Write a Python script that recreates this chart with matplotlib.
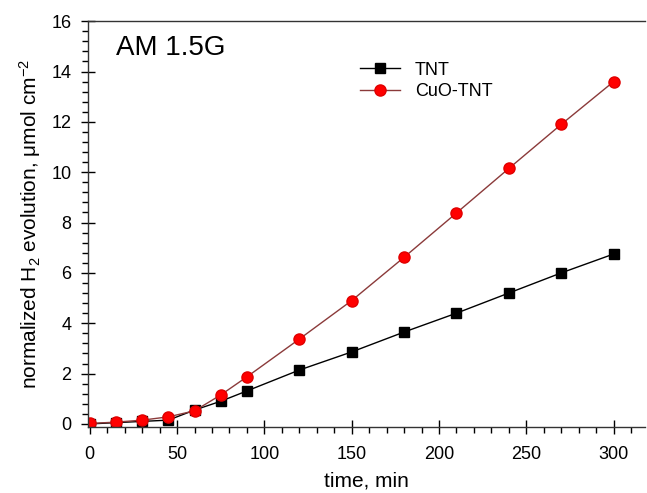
import numpy as np
import matplotlib
matplotlib.use('Agg')
import matplotlib.pyplot as plt
from matplotlib.ticker import MultipleLocator

plt.rcParams['font.family'] = ['Liberation Sans', 'DejaVu Sans']
plt.rcParams['mathtext.fontset'] = 'custom'
plt.rcParams['mathtext.rm'] = 'Liberation Sans'
plt.rcParams['mathtext.it'] = 'Liberation Sans'

time_min = [0, 15, 30, 45, 60, 75, 90, 120, 150, 180, 210, 240, 270, 300]
tnt = [0.0, 0.05, 0.1, 0.15, 0.55, 0.9, 1.31, 2.14, 2.86, 3.65, 4.4, 5.2, 6.0, 6.75]
cuo_tnt = [0.02, 0.07, 0.15, 0.28, 0.52, 1.15, 1.87, 3.37, 4.9, 6.62, 8.38, 10.15, 11.9, 13.6]

fig = plt.figure(figsize=(6.47, 4.93), dpi=100)
ax = fig.add_axes([0.136, 0.134, 0.861, 0.823])

ax.plot(time_min, tnt, color='black', linewidth=1, marker='s', markersize=7,
        markerfacecolor='black', markeredgecolor='black', label='TNT')
ax.plot(time_min, cuo_tnt, color='#8b3a3a', linewidth=1, marker='o', markersize=8,
        markerfacecolor='#ff0000', markeredgecolor='#e00000', label='CuO-TNT')

ax.set_xlim(-1, 318)
ax.set_ylim(-0.12, 16)
ax.xaxis.set_major_locator(MultipleLocator(50))
ax.xaxis.set_minor_locator(MultipleLocator(10))
ax.yaxis.set_major_locator(MultipleLocator(2))
ax.yaxis.set_minor_locator(MultipleLocator(0.4))
ax.tick_params(which='major', direction='inout', length=10, width=1, labelsize=13)
ax.tick_params(axis='x', which='major', pad=9)
ax.tick_params(axis='y', which='major', pad=7)
ax.tick_params(which='minor', direction='out', length=4, width=1)
ax.tick_params(top=False, right=False)
ax.spines['right'].set_visible(False)
for s in ['left', 'bottom', 'top']:
    ax.spines[s].set_linewidth(1)
    ax.spines[s].set_color('#333333')

ax.set_xlabel('time, min', fontsize=15, labelpad=6)
ax.set_ylabel(r'normalized H$_2$ evolution, $\mu$mol cm$^{-2}$', fontsize=15, labelpad=6)
ax.text(0.05, 0.933, 'AM 1.5G', transform=ax.transAxes, fontsize=20, va='center', ha='left')

ax.legend(loc='upper left', bbox_to_anchor=(0.46, 0.94), frameon=False, fontsize=13,
          handlelength=2.2, labelspacing=0.25)

fig.savefig('out.png', dpi=100)
